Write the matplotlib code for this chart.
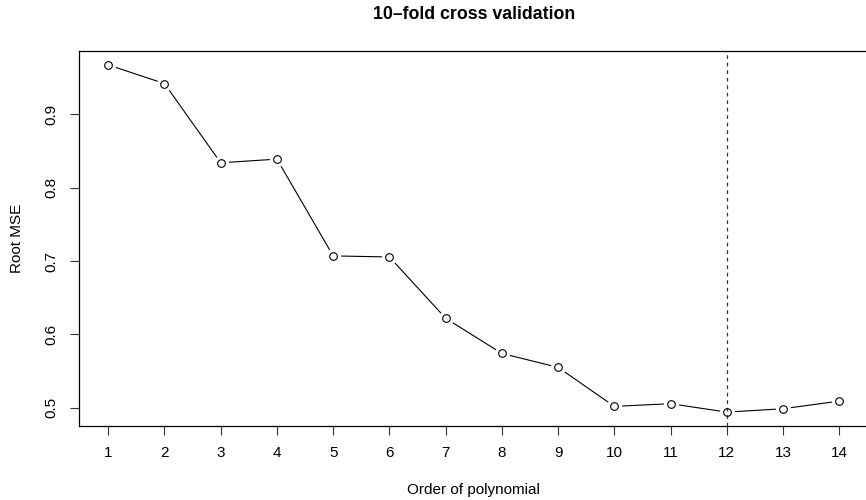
import numpy as np
import matplotlib
matplotlib.use("Agg")
import matplotlib.pyplot as plt

plt.rcParams['font.family'] = ['Liberation Sans', 'DejaVu Sans']

# cross validation results, polynomial order 1..14
order = [1, 2, 3, 4, 5, 6, 7, 8, 9, 10, 11, 12, 13, 14]
rmse = [0.9675, 0.942, 0.834, 0.839, 0.707, 0.7056, 0.622, 0.574, 0.555,
        0.5018, 0.5055, 0.494, 0.4986, 0.509]
y_ticks = [0.5, 0.6, 0.7, 0.8, 0.9]

best = order[int(np.argmin(rmse))]

W, H = 866, 500
fig = plt.figure(figsize=(W / 100, H / 100), dpi=100)
# plot region in pixels (right side runs a bit past the edge)
left, right, top, bottom = 79, 868.5, 51, 426
ax = fig.add_axes([left / W, (H - bottom) / H, (right - left) / W, (bottom - top) / H])

# type="b" look: line with gaps around the points
ax.plot(order, rmse, color='black', lw=0.8, zorder=1)
ax.plot(order, rmse, 'o', ms=11, mfc='white', mec='white', mew=0, zorder=2)
ax.axvline(best, color='#333333', lw=0.9, ls=(0, (3, 3)), zorder=3)
ax.plot(order, rmse, 'o', ms=5.5, mfc='none', mec='black', mew=0.8, zorder=4)

ax.margins(x=0.04, y=0.04)
ax.set_xticks(order)
ax.set_yticks(y_ticks)
ax.set_yticklabels([str(v) for v in y_ticks], rotation=90, va='center')
ax.tick_params(axis='both', length=6.5, width=0.8, labelsize=11, color='#333333')
ax.tick_params(axis='x', pad=8)
ax.tick_params(axis='y', pad=8)
for s in ax.spines.values():
    s.set_linewidth(0.9)

ax.set_xlabel('Order of polynomial', fontsize=11)
ax.xaxis.set_label_coords(0.5, (bottom - 490) / (bottom - top))
ax.xaxis.label.set_va('center')
ax.set_ylabel('Root MSE', fontsize=11)
ax.yaxis.set_label_coords((17 - left) / (right - left), 0.5)
ax.yaxis.label.set_va('center')

ax.set_title('10\u2013fold cross validation', fontsize=12.8, fontweight='bold',
             y=(bottom - 15) / (bottom - top), va='center', pad=0)

fig.savefig('out.png', dpi=100)
